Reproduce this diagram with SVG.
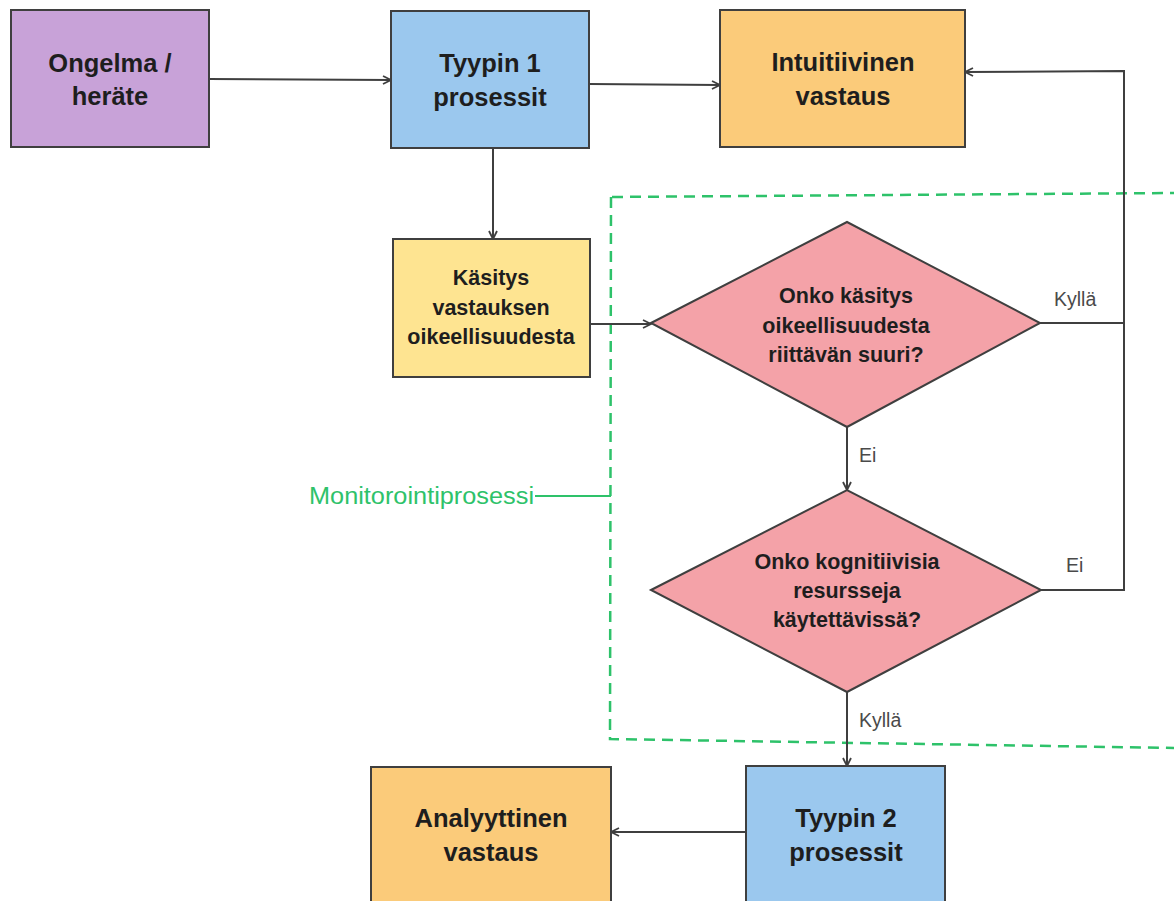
<svg xmlns="http://www.w3.org/2000/svg" width="1174" height="901" viewBox="0 0 1174 901">
<style>
.box{stroke:#3f3f3f;stroke-width:2}
.t{font-family:"Liberation Sans",Arial,sans-serif;font-weight:bold;fill:#1e1e1e;text-anchor:middle;dominant-baseline:central}
.big{font-size:25.5px}
.mid{font-size:21.5px}
.lbl{font-family:"Liberation Sans",Arial,sans-serif;font-size:19.5px;fill:#4a4a4a}
.c{fill:none;stroke:#3f3f3f;stroke-width:2}
</style>
<defs>
<marker id="arr" viewBox="0 0 10 10" refX="9" refY="5" markerWidth="10" markerHeight="10" markerUnits="userSpaceOnUse" orient="auto">
<path d="M1,1 L9,5 L1,9" fill="none" stroke="#3f3f3f" stroke-width="1.8"/>
</marker>
</defs>
<rect width="1174" height="901" fill="#ffffff"/>

<g id="monitor">
<path d="M612,197 L1174,193 M611,197 L610,739 L1174,748" fill="none" stroke="#2ec26a" stroke-width="2.5" stroke-dasharray="11,7"/>
<line x1="535" y1="496" x2="611" y2="496" stroke="#2ec26a" stroke-width="2"/>
<text x="309" y="496" font-family="Liberation Sans,Arial,sans-serif" font-size="23px" fill="#2ec26a" dominant-baseline="central" textLength="225" lengthAdjust="spacingAndGlyphs">Monitorointiprosessi</text>
</g>

<g id="connectors">
<line class="c" x1="209" y1="79" x2="391" y2="80" marker-end="url(#arr)"/>
<line class="c" x1="589" y1="84" x2="720" y2="85" marker-end="url(#arr)"/>
<line class="c" x1="493" y1="148" x2="493" y2="239" marker-end="url(#arr)"/>
<line class="c" x1="590" y1="324" x2="651" y2="324" marker-end="url(#arr)"/>
<polyline class="c" points="1040,323 1124,323"/>
<polyline class="c" points="1041,590 1124,590 1124,71 965,72" marker-end="url(#arr)"/>
<line class="c" x1="847" y1="427" x2="847" y2="490" marker-end="url(#arr)"/>
<line class="c" x1="847" y1="692" x2="847" y2="766" marker-end="url(#arr)"/>
<line class="c" x1="746" y1="832" x2="611" y2="832" marker-end="url(#arr)"/>
<text class="lbl" x="1054" y="306">Kyllä</text>
<text class="lbl" x="859" y="462">Ei</text>
<text class="lbl" x="1066" y="572">Ei</text>
<text class="lbl" x="859" y="727">Kyllä</text>
</g>

<g id="ongelma">
<rect class="box" x="11" y="10" width="198" height="137" fill="#c8a2d8"/>
<text class="t big" x="110" y="63">Ongelma /</text>
<text class="t big" x="110" y="96">heräte</text>
</g>

<g id="tyypin1">
<rect class="box" x="391" y="11" width="198" height="137" fill="#9bc8ee"/>
<text class="t big" x="490" y="63">Tyypin 1</text>
<text class="t big" x="490" y="97">prosessit</text>
</g>

<g id="intuitiivinen">
<rect class="box" x="720" y="10" width="245" height="137" fill="#fbcb7a"/>
<text class="t big" x="843" y="62">Intuitiivinen</text>
<text class="t big" x="843" y="96">vastaus</text>
</g>

<g id="kasitys">
<rect class="box" x="393" y="239" width="197" height="138" fill="#fee491"/>
<text class="t mid" x="491" y="278">Käsitys</text>
<text class="t mid" x="491" y="308">vastauksen</text>
<text class="t mid" x="491" y="337">oikeellisuudesta</text>
</g>

<g id="paatos1">
<polygon class="box" points="651,323 847,222 1040,323 847,427" fill="#f4a2a8"/>
<text class="t mid" x="846" y="296">Onko käsitys</text>
<text class="t mid" x="846" y="326">oikeellisuudesta</text>
<text class="t mid" x="846" y="355">riittävän suuri?</text>
</g>

<g id="paatos2">
<polygon class="box" points="651,590 847,490 1041,590 847,692" fill="#f4a2a8"/>
<text class="t mid" x="847" y="562">Onko kognitiivisia</text>
<text class="t mid" x="847" y="591">resursseja</text>
<text class="t mid" x="847" y="620">käytettävissä?</text>
</g>

<g id="tyypin2">
<rect class="box" x="746" y="766" width="199" height="145" fill="#9bc8ee"/>
<text class="t big" x="846" y="818">Tyypin 2</text>
<text class="t big" x="846" y="852">prosessit</text>
</g>

<g id="analyyttinen">
<rect class="box" x="371" y="767" width="240" height="144" fill="#fbcb7a"/>
<text class="t big" x="491" y="818">Analyyttinen</text>
<text class="t big" x="491" y="852">vastaus</text>
</g>
</svg>
